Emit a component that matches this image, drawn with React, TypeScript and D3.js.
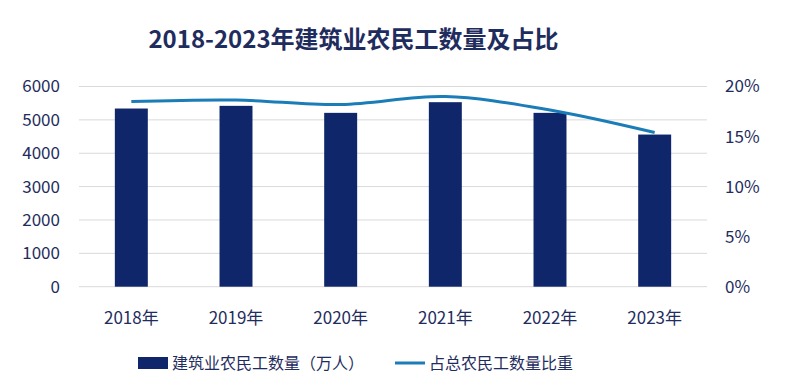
import React from "react";
import * as d3 from "d3";

const years = ["2018年", "2019年", "2020年", "2021年", "2022年", "2023年"];
const workers = [5340, 5420, 5210, 5530, 5210, 4560];
const share = [18.5, 18.65, 18.2, 19.0, 17.65, 15.4];
const leftTicks = [0, 1000, 2000, 3000, 4000, 5000, 6000];
const rightTicks = [0, 5, 10, 15, 20];
const title = "2018-2023年建筑业农民工数量及占比";
const legendBar = "建筑业农民工数量（万人）";
const legendLine = "占总农民工数量比重";

const W = 793, H = 383;
const left = 79, right = 707, top = 86.5, bottom = 286.7;
const barColor = "#10266b";
const lineColor = "#1a7db8";
const textColor = "#1f2d5e";
const font = "'Noto Sans CJK SC', 'Noto Sans', sans-serif";

export default function App() {
  const x = d3.scaleBand<string>().domain(years).range([left, right]).paddingInner(0.685).paddingOuter(0.3425);
  const y = d3.scaleLinear().domain([0, 6000]).range([bottom, top]);
  const y2 = d3.scaleLinear().domain([0, 20]).range([bottom, top]);
  const line = d3.line<number>()
    .x((_, i) => (x(years[i]) as number) + x.bandwidth() / 2)
    .y((d) => y2(d))
    .curve(d3.curveCatmullRom.alpha(0.5));
  return (
    <svg width={W} height={H} style={{ position: "absolute", left: 0, top: 0, background: "#fff" }} fontFamily={font}>
      <rect width={W} height={H} fill="#fff" />
      <text x={353.5} y={48} textAnchor="middle" fontSize={24} fontWeight={700} fill={textColor}>{title}</text>
      {leftTicks.map((t) => (
        <line key={t} x1={left} x2={right} y1={y(t)} y2={y(t)} stroke="#d9d9d9" strokeWidth={1} />
      ))}
      {leftTicks.map((t) => (
        <text key={t} x={60} y={y(t)} dy="0.35em" textAnchor="end" fontSize={17} fill={textColor}>{t}</text>
      ))}
      {rightTicks.map((t) => (
        <text key={t} x={725} y={y2(t)} dy="0.35em" textAnchor="start" fontSize={17} fill={textColor}>{t}%</text>
      ))}
      {years.map((yr, i) => (
        <rect key={yr} x={x(yr)} y={y(workers[i])} width={x.bandwidth()} height={bottom - y(workers[i])} fill={barColor} />
      ))}
      <path d={line(share) || ""} fill="none" stroke={lineColor} strokeWidth={3} />
      {years.map((yr) => (
        <text key={yr} x={(x(yr) as number) + x.bandwidth() / 2} y={318} dy="0.35em" textAnchor="middle" fontSize={17} fill={textColor}>{yr}</text>
      ))}
      <rect x={138} y={357} width={30} height={12} fill={barColor} />
      <text x={172} y={363} dy="0.35em" fontSize={16} fill={textColor}>{legendBar}</text>
      <line x1={395} x2={425} y1={363} y2={363} stroke={lineColor} strokeWidth={3} />
      <text x={429} y={363} dy="0.35em" fontSize={16} fill={textColor}>{legendLine}</text>
    </svg>
  );
}
